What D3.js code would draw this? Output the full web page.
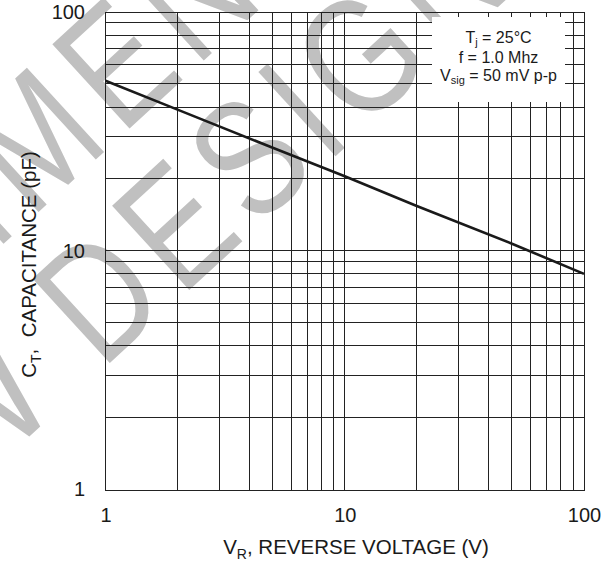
<!DOCTYPE html>
<html>
<head>
<meta charset="utf-8">
<script src="https://cdn.jsdelivr.net/npm/d3@7"></script>
<style>
  html, body { margin: 0; padding: 0; background: #ffffff; }
  svg { display: block; }
  text { font-family: "Liberation Sans", Arial, Helvetica, sans-serif; }
</style>
</head>
<body>
<div id="chart"></div>
<script>
// ---- data ----
const voltage = [1, 2, 5, 10, 20, 50, 100];                 // V_R (V)
const capacitance = [51.5, 39.0, 27.0, 20.5, 15.4, 10.7, 8.0]; // C_T (pF)
const xTickValues = [1, 10, 100];
const yTickValues = [1, 10, 100];
const xGridValues = [2, 3, 4, 5, 6, 7, 8, 9, 10, 20, 30, 40, 50, 60, 70, 80, 90];
const yGridValues = [2, 3, 4, 5, 6, 7, 8, 9, 10, 20, 30, 40, 50, 60, 70, 80, 90];
const conditionLines = [
  { main: "T", sub: "j", rest: " = 25°C" },
  { main: "f = 1.0 Mhz", sub: "", rest: "" },
  { main: "V", sub: "sig", rest: " = 50 mV p-p" }
];
const watermarkLine1 = "NOT RECOMMENDED FOR";
const watermarkLine2 = "NEW DESIGN";

// ---- layout ----
const W = 609, H = 567;
const svg = d3.select("#chart").append("svg").attr("width", W).attr("height", H);

const x = d3.scaleLog().domain([1, 100]).range([105.5, 584]);
const y = d3.scaleLog().domain([1, 100]).range([489.5, 12]);
const crisp = v => Math.round(v - 0.5) + 0.5;

// ---- watermark (behind everything) ----
const wmAngle = -42.5;
const wmSpacingSize = 150, wmGlyphSize = 166, wmScaleX = 0.8;
const rad = wmAngle * Math.PI / 180;
const dir = [Math.cos(rad), Math.sin(rad)];
const wm = svg.append("g").attr("fill", "#c0c0c0");
function drawWatermark(str, anchorIdx, cx, cy) {
  const probe = svg.append("text").style("font-size", wmSpacingSize + "px")
    .attr("x", 0).attr("y", -500).text(str);
  const node = probe.node();
  const centers = [];
  for (let i = 0; i < str.length; i++) {
    const s = node.getStartPositionOfChar(i).x;
    const e = node.getEndPositionOfChar(i).x;
    centers.push((s + e) / 2);
  }
  probe.remove();
  const c0 = centers[anchorIdx];
  for (let i = 0; i < str.length; i++) {
    if (str[i] === " ") continue;
    const d = centers[i] - c0;
    const px = cx + d * dir[0], py = cy + d * dir[1];
    wm.append("text")
      .attr("transform", `translate(${px},${py}) rotate(${wmAngle}) scale(${wmScaleX},1)`)
      .attr("text-anchor", "middle")
      .attr("y", 0.358 * wmGlyphSize)
      .style("font-size", wmGlyphSize + "px")
      .text(str[i]);
  }
}
// "D" of DESIGN and the "E" following "MM" of RECOMMENDED anchor the two lines
drawWatermark(watermarkLine2, watermarkLine2.indexOf("D"), 97, 294);
drawWatermark(watermarkLine1, watermarkLine1.indexOf("ME") + 1, 114, 62);

// ---- grid ----
const gridColor = "#222";
const grid = svg.append("g").attr("stroke", gridColor).attr("stroke-width", 1).attr("shape-rendering", "crispEdges");
grid.selectAll("line.vx").data(xGridValues).join("line")
  .attr("x1", d => crisp(x(d))).attr("x2", d => crisp(x(d)))
  .attr("y1", y(100)).attr("y2", y(1));
grid.selectAll("line.hy").data(yGridValues).join("line")
  .attr("x1", x(1)).attr("x2", x(100))
  .attr("y1", d => crisp(y(d))).attr("y2", d => crisp(y(d)));

// frame
svg.append("rect")
  .attr("x", crisp(x(1))).attr("y", crisp(y(100)))
  .attr("width", Math.round(x(100) - x(1))).attr("height", Math.round(y(1) - y(100)))
  .attr("fill", "none").attr("stroke", gridColor).attr("stroke-width", 1)
  .attr("shape-rendering", "crispEdges");

// ---- conditions box (white, hides grid) ----
svg.append("rect")
  .attr("x", 432).attr("y", 17).attr("width", 133).attr("height", 85)
  .attr("fill", "#ffffff");
const box = svg.append("g").attr("fill", "#1a1a1a").style("font-size", "16px");
const boxBaselines = [43, 63, 81];
conditionLines.forEach((c, i) => {
  const t = box.append("text").attr("x", 498.5).attr("y", boxBaselines[i]).attr("text-anchor", "middle");
  t.append("tspan").text(c.main);
  if (c.sub) {
    t.append("tspan").attr("dy", 3).style("font-size", "11px").text(c.sub);
    t.append("tspan").attr("dy", -3).text(c.rest);
  }
});

// ---- curve ----
const pts = voltage.map((v, i) => [v, capacitance[i]]);
svg.append("path")
  .datum(pts)
  .attr("fill", "none")
  .attr("stroke", "#1a1a1a")
  .attr("stroke-width", 2.6)
  .attr("d", d3.line().x(d => x(d[0])).y(d => y(d[1])));

// ---- axes (labels only) ----
const xAxis = d3.axisBottom(x).tickValues(xTickValues).tickFormat(d3.format("d"))
  .tickSizeInner(0).tickSizeOuter(0).tickPadding(18);
const gx = svg.append("g").attr("transform", `translate(0,${y(1)})`).call(xAxis);
gx.select(".domain").remove();
gx.selectAll("text").attr("fill", "#1a1a1a").style("font-size", "20px")
  .style("font-family", '"Liberation Sans", Arial, sans-serif');

const yAxis = d3.axisLeft(y).tickValues(yTickValues).tickFormat(d3.format("d"))
  .tickSizeInner(0).tickSizeOuter(0).tickPadding(20.5);
const gy = svg.append("g").attr("transform", `translate(${x(1)},0)`).call(yAxis);
gy.select(".domain").remove();
gy.selectAll("text").attr("fill", "#1a1a1a").style("font-size", "20px")
  .style("font-family", '"Liberation Sans", Arial, sans-serif');

// ---- axis titles ----
const xt = svg.append("text").attr("x", 356).attr("y", 554).attr("text-anchor", "middle")
  .attr("fill", "#1a1a1a").style("font-size", "20.5px");
xt.append("tspan").text("V");
xt.append("tspan").attr("dy", 5).style("font-size", "14px").text("R");
xt.append("tspan").attr("dy", -5).text(", REVERSE VOLTAGE (V)");

const yt = svg.append("text").attr("transform", "translate(36,264.5) rotate(-90)")
  .attr("text-anchor", "middle").attr("fill", "#1a1a1a").style("font-size", "20.5px");
yt.append("tspan").text("C");
yt.append("tspan").attr("dy", 5).style("font-size", "14px").text("T");
yt.append("tspan").attr("dy", -5).text(",\u00a0 CAPACITANCE (pF)");
</script>
</body>
</html>
